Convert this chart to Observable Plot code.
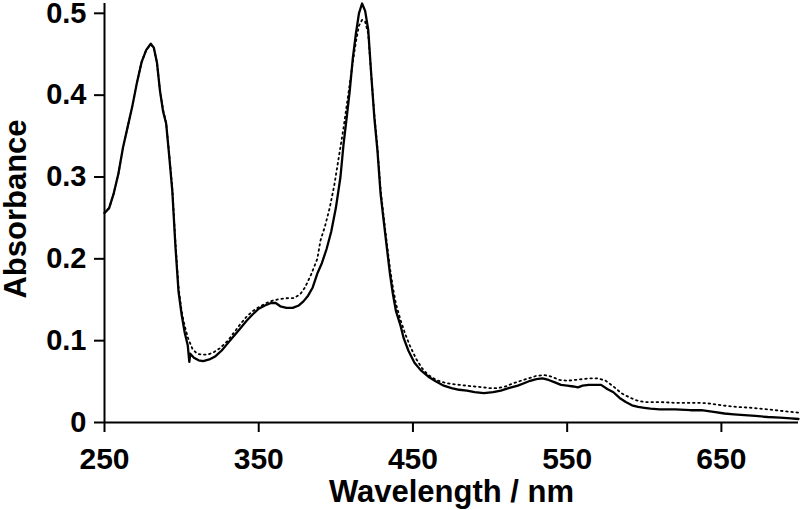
<!DOCTYPE html>
<html>
<head>
<meta charset="utf-8">
<script src="https://cdn.jsdelivr.net/npm/d3@7"></script>
<script src="https://cdn.jsdelivr.net/npm/@observablehq/plot@0.6"></script>
<style>
  html, body { margin: 0; padding: 0; background: #fff; }
  #chart { width: 800px; height: 510px; }
</style>
</head>
<body>
<div id="chart"></div>
<script>
// Solid spectrum
const solidWl = [250,253,256,259,262,265,268,271,274,277,280,282,284,286,288,290,292,294,296,298,300,302,304,305,305.6,308,311,314,318,322,326,330,334,338,342,346,350,354,358,361,364,368,372,376,379,382,385,388,391,394,397,400,403,405,407,409,411,413,415,417,419,421,423,425,427,429,431,433,435,437,439,442,444,447,451,455,460,465,470,475,480,485,490,496,502,507,512,518,522,526,530,534,538,542,546,550,554,557,560,564,568,572,576,580,584,588,592,596,600,604,610,620,630,637,645,652,658,665,672,680,688,695,700];
const solidAbs = [0.256,0.262,0.280,0.304,0.336,0.361,0.386,0.415,0.440,0.455,0.463,0.458,0.440,0.405,0.380,0.365,0.325,0.282,0.215,0.160,0.132,0.110,0.094,0.074,0.084,0.079,0.076,0.075,0.077,0.081,0.088,0.097,0.106,0.115,0.124,0.132,0.139,0.143,0.146,0.146,0.142,0.140,0.140,0.143,0.148,0.155,0.165,0.182,0.195,0.212,0.233,0.262,0.300,0.340,0.372,0.405,0.445,0.475,0.500,0.512,0.503,0.480,0.424,0.372,0.332,0.280,0.247,0.215,0.183,0.157,0.136,0.118,0.103,0.088,0.073,0.064,0.056,0.050,0.045,0.042,0.040,0.039,0.037,0.036,0.037,0.039,0.042,0.045,0.048,0.051,0.053,0.054,0.052,0.049,0.046,0.045,0.044,0.043,0.045,0.046,0.046,0.046,0.041,0.037,0.030,0.025,0.021,0.019,0.018,0.017,0.016,0.016,0.015,0.015,0.013,0.011,0.010,0.009,0.008,0.0067,0.006,0.005,0.0043];

// Dotted spectrum
const dottedWl = [250,253,256,259,262,265,268,271,274,277,280,282,284,286,288,290,292,294,296,298,300,302,304,307,310,313,317,321,325,330,334,338,342,346,351,355,359,364,369,373,377,380,384,388,390,393,396,399,402,405,408,411,413,415,417,419,421,423,425,427,429,431,433,435,437,439,442,445,448,452,456,460,465,470,475,480,485,490,495,500,505,510,515,520,525,530,535,540,545,550,555,560,565,570,575,580,585,590,595,600,610,620,630,637,643,650,660,669,680,690,700];
const dottedAbs = [0.256,0.262,0.280,0.304,0.336,0.361,0.386,0.415,0.440,0.455,0.462,0.457,0.440,0.405,0.382,0.366,0.327,0.285,0.220,0.165,0.136,0.118,0.104,0.090,0.084,0.083,0.083,0.086,0.091,0.100,0.110,0.120,0.129,0.136,0.142,0.146,0.149,0.151,0.152,0.152,0.157,0.165,0.181,0.200,0.222,0.240,0.262,0.290,0.325,0.360,0.400,0.440,0.465,0.485,0.492,0.490,0.475,0.424,0.375,0.335,0.285,0.252,0.220,0.190,0.165,0.145,0.125,0.108,0.094,0.078,0.066,0.058,0.052,0.049,0.047,0.046,0.045,0.044,0.043,0.042,0.042,0.044,0.048,0.051,0.054,0.057,0.058,0.056,0.052,0.051,0.052,0.053,0.054,0.054,0.051,0.044,0.036,0.031,0.027,0.025,0.025,0.024,0.024,0.024,0.023,0.021,0.019,0.018,0.016,0.014,0.012];

const xTicks = [250, 350, 450, 550, 650];
const yTicks = [0, 0.1, 0.2, 0.3, 0.4, 0.5];
const xTitle = "Wavelength / nm";
const yTitle = "Absorbance";

const solid = solidWl.map((w, i) => ({wl: w, abs: solidAbs[i]}));
const dotted = dottedWl.map((w, i) => ({wl: w, abs: dottedAbs[i]}));

const font = "'Liberation Sans', Arial, Helvetica, sans-serif";

const chart = Plot.plot({
  width: 800,
  height: 510,
  marginLeft: 104,
  marginRight: 2,
  marginTop: 3,
  marginBottom: 88,
  style: {fontFamily: font, fontWeight: "bold", fontSize: "30px", color: "#000", background: "#fff", overflow: "visible"},
  x: {domain: [250, 700], axis: null},
  y: {domain: [0, 0.512], axis: null},
  marks: [
    Plot.lineY(dotted, {x: "wl", y: "abs", stroke: "#000", strokeWidth: 1.8, strokeDasharray: "1.6,3.6"}),
    Plot.lineY(solid, {x: "wl", y: "abs", stroke: "#000", strokeWidth: 2.3}),
    Plot.axisX({ticks: xTicks, tickSize: 10, tickPadding: 15, strokeWidth: 2, label: null, fontSize: 30, fontWeight: "bold"}),
    Plot.axisY({ticks: yTicks, tickSize: 10, tickPadding: 8, strokeWidth: 2, label: null, fontSize: 29, fontWeight: "bold",
      tickFormat: d => d === 0 ? "0" : d.toFixed(1)}),
    Plot.ruleY([0], {stroke: "#000", strokeWidth: 2}),
    Plot.ruleX([250], {stroke: "#000", strokeWidth: 2}),
    Plot.text([xTitle], {frameAnchor: "bottom", dy: 70, lineAnchor: "middle", fontSize: 31, fontWeight: "bold", fill: "#000"}),
    Plot.text([yTitle], {frameAnchor: "left", dx: -88, dy: -4, rotate: -90, textAnchor: "middle", lineAnchor: "middle", fontSize: 31, fontWeight: "bold", fill: "#000"})
  ]
});
document.getElementById("chart").appendChild(chart);
</script>
</body>
</html>
